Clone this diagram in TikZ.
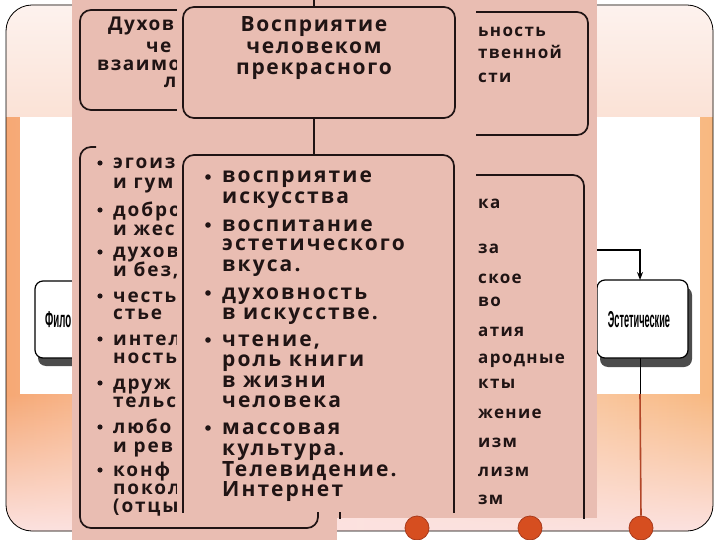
\documentclass[tikz,border=0pt]{standalone}
\usepackage{fontspec}
\setmainfont{Open Sans}
\newfontfamily\scanM{Open Sans}[LetterSpace=10]
\newfontfamily\scanT{Open Sans}[LetterSpace=8]
\newfontfamily\scanL{Open Sans}[LetterSpace=10]
\newfontfamily\scanR{Open Sans}[LetterSpace=8]
\newfontfamily\narrowf{Liberation Sans}
\usetikzlibrary{arrows.meta,fadings}
\definecolor{pinkbg}{RGB}{233,189,178}
\definecolor{inkc}{RGB}{32,20,20}
\definecolor{bgL}{RGB}{246,168,116}
\definecolor{bgM}{RGB}{252,226,214}
\definecolor{bgR}{RGB}{248,184,128}
\definecolor{bgTop}{RGB}{253,242,238}
\definecolor{bgTopB}{RGB}{251,226,214}
\definecolor{bgBot}{RGB}{252,226,224}
\definecolor{dotred}{RGB}{214,78,32}
\definecolor{dotdark}{RGB}{168,58,28}
\definecolor{redline}{RGB}{178,70,40}
\begin{document}
\begin{tikzpicture}[x=1pt,y=-1pt,
  inkline/.style={draw=inkc,line width=1.7},
  flowbox/.style={draw=black,line width=1.2,fill=white,rounded corners=8},
  shadowbox/.style={fill=black!70,rounded corners=8},
  midtxt/.style={anchor=base west,inner sep=0,text=inkc,font=\scanM\bfseries\fontsize{21}{21}\selectfont},
  lefttxt/.style={anchor=base west,inner sep=0,text=inkc,font=\scanL\bfseries\fontsize{19}{19}\selectfont},
  righttxt/.style={anchor=base west,inner sep=0,text=inkc,font=\scanR\bfseries\fontsize{17}{17}\selectfont},
  titletxt/.style={anchor=base,inner sep=0,text=inkc,font=\scanT\bfseries\fontsize{21}{21}\selectfont},
  toptxt/.style={anchor=base west,inner sep=0,text=inkc,font=\scanT\bfseries\fontsize{19}{19}\selectfont},
  flowtxt/.style={inner sep=0,font=\narrowf\bfseries\fontsize{23}{23}\selectfont},
  dot/.style={circle,fill=dotred,draw=dotdark,line width=0.8,minimum size=24,inner sep=0}
]
\useasboundingbox (0,0) rectangle (720,540);
\fill[white] (0,0) rectangle (720,540);
% slide frame
\shade[rounded corners=26,left color=bgL,right color=bgR,middle color=bgM] (6,5) rectangle (713,531);
\begin{scope}
  \clip[rounded corners=26] (6,5) rectangle (713,531);
  \shade[top color=bgTop,bottom color=bgTopB] (6,5) rectangle (713,117);
  \fill[bgBot,path fading=north] (6,394) rectangle (713,531);
\end{scope}
\draw[line width=0.8,rounded corners=26] (6,5) rectangle (713,531);
% white panel
\fill[white] (20,117) rectangle (700,394);
% flowchart boxes behind
\fill[shadowbox] (38,288) rectangle (113,366);
\draw[flowbox] (35,281) rectangle (110,358);
\node[flowtxt,anchor=base west,xscale=0.42] (filo) at (45,327) {Фило};
\fill[shadowbox] (600,287) rectangle (692,367);
\draw[flowbox] (597,280) rectangle (688,358);
\node[flowtxt,xscale=0.4] (estet) at (639,320) {Эстетические};
\coordinate (estTop) at (640,280);
\coordinate (estBot) at (640,358);
\coordinate (arrStart) at (590,250);
\coordinate (panelBot) at (640,394);
\draw[line width=1.8,-{Stealth[length=8,width=6]}] (arrStart) -| (estTop);
\draw[line width=0.9] (estBot) -- (panelBot);
% left image
\fill[pinkbg] (72,0) rectangle (337,540);
\draw[inkline,rounded corners=11] (80,10) rectangle (318,110);
\draw[inkline,rounded corners=11] (96,147) -- (80,147) -- (80,528) -- (318,528) -- (318,500);
\node[toptxt] (lt1) at (108,31) {Духов};
\node[toptxt] (lt2) at (146,53) {че};
\node[toptxt] (lt3) at (97,71) {взаимо};
\node[toptxt] (lt4) at (164,88) {л};
\foreach \t/\y [count=\i] in {{эгоиз}/169,{и гум}/189,{добро}/216,{и жес}/236,{духов}/258,{и без,}/276,{честь}/302,{стье}/319,{интел}/345,{ность}/363,{друж}/389,{тельс}/407,{любо}/433,{и рев}/452,{конф}/476,{покол}/494,{(отцы}/512}
  {\node[lefttxt] (l\i) at (113,\y) {\t};}
\foreach \y in {163,210,252,296,339,383,427,470}
  {\fill[inkc] (100,\y) circle (2.6);}
% right image
\begin{scope}
  \clip (337,0) rectangle (597,518);
  \fill[pinkbg] (337,0) rectangle (597,518);
  \draw[inkline,rounded corners=11] (340,12) rectangle (588,135);
  \draw[inkline,rounded corners=11] (340,175) rectangle (584,600);
  \foreach \t/\y [count=\i] in {{ьность}/37,{твенной}/59,{сти}/83}
    {\node[righttxt] (rt\i) at (478,\y) {\t};}
  \foreach \t/\y [count=\i] in {{ка}/209,{за}/254,{ское}/283,{во}/306,{атия}/336,{ародные}/363,{кты}/388,{жение}/418,{изм}/447,{лизм}/476,{зм}/504}
    {\node[righttxt] (r\i) at (478,\y) {\t};}
\end{scope}
% middle image
\begin{scope}
  \clip (177,0) rectangle (476,512);
  \fill[pinkbg] (177,0) rectangle (476,512);
  \draw[inkline,rounded corners=11] (183,7) rectangle (455,118);
  \draw[inkline,rounded corners=11] (183,155) rectangle (454,600);
  \coordinate (topIn) at (314,0);
  \node[titletxt] (t1) at (314,32) {Восприятие};
  \node[titletxt] (t2) at (314,54) {человеком};
  \node[titletxt] (t3) at (314,75) {прекрасного};
  \coordinate (titleTop) at (314,7);
  \coordinate (titleBot) at (314,118);
  \coordinate (listTop) at (314,155);
  \draw[inkline] (topIn) -- (titleTop);
  \draw[inkline] (titleBot) -- (listTop);
  \foreach \t/\y [count=\i] in {{восприятие}/183,{искусства}/204,{воспитание}/231,{эстетического}/251,{вкуса.}/271,{духовность}/299,{в искусстве.}/319,{чтение,}/346,{роль книги}/366,{в жизни}/387,{человека}/407,{массовая}/434,{культура.}/455,{Телевидение.}/476,{Интернет}/496}
    {\node[midtxt] (m\i) at (222,\y) {\t};}
  \foreach \y in {177,225,293,340,428}
    {\fill[inkc] (208,\y) circle (2.8);}
\end{scope}
% dots and red connector
\node[dot] (d1) at (417,528) {};
\node[dot] (d2) at (530,528) {};
\node[dot] (d3) at (641,528) {};
\draw[redline,line width=1.6] (panelBot) -- (d3.north);
\end{tikzpicture}
\end{document}
